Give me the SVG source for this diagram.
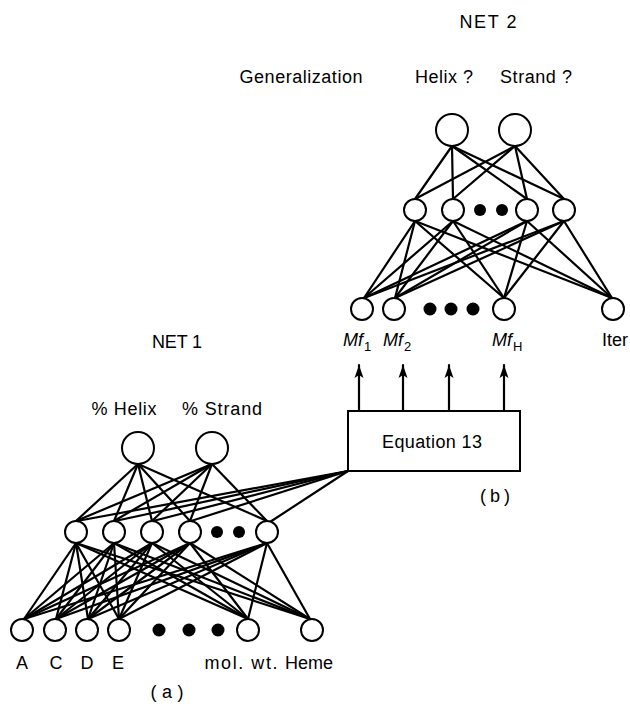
<svg xmlns="http://www.w3.org/2000/svg" width="630" height="706" viewBox="0 0 630 706">
  <style>
    text { font-family: "Liberation Sans", Arial, sans-serif; font-size: 18px; fill: #000; }
    .mid { text-anchor: middle; }
    .it { font-style: italic; font-size: 18px; }
    .sub { font-size: 13px; font-style: normal; }
    .edge { stroke: #000; stroke-width: 2.2; fill: none; stroke-linecap: round; }
    .node { fill: #fff; stroke: #000; stroke-width: 2; }
    .dot { fill: #000; }
    .box { fill: #fff; stroke: #000; stroke-width: 2; }
  </style>
  <defs>
    <marker id="arrow" markerUnits="userSpaceOnUse" markerWidth="14" markerHeight="10" viewBox="0 -5 14 10" refX="13" refY="0" orient="auto">
      <path d="M0,-4.5 L13,0 L0,4.5 L3,0 z" fill="#000"/>
    </marker>
  </defs>

  <rect width="630" height="706" fill="#fff"/>

  <!-- connectors -->
  <g id="connectors" class="edge">
    <!-- NET 2: output layer to hidden layer -->
    <g id="net2-out-hid">
      <line x1="452" y1="146" x2="415" y2="199"/>
      <line x1="452" y1="146" x2="453" y2="199"/>
      <line x1="452" y1="146" x2="527" y2="199"/>
      <line x1="452" y1="146" x2="564" y2="199"/>
      <line x1="515" y1="146" x2="415" y2="199"/>
      <line x1="515" y1="146" x2="453" y2="199"/>
      <line x1="515" y1="146" x2="527" y2="199"/>
      <line x1="515" y1="146" x2="564" y2="199"/>
    </g>
    <!-- NET 2: hidden layer to inputs -->
    <g id="net2-hid-in">
      <line x1="415" y1="221" x2="364" y2="298"/>
      <line x1="453" y1="221" x2="364" y2="298"/>
      <line x1="527" y1="221" x2="364" y2="298"/>
      <line x1="564" y1="221" x2="364" y2="298"/>
      <line x1="415" y1="221" x2="395" y2="298"/>
      <line x1="453" y1="221" x2="395" y2="298"/>
      <line x1="527" y1="221" x2="395" y2="298"/>
      <line x1="564" y1="221" x2="395" y2="298"/>
      <line x1="415" y1="221" x2="504" y2="298"/>
      <line x1="453" y1="221" x2="504" y2="298"/>
      <line x1="527" y1="221" x2="504" y2="298"/>
      <line x1="564" y1="221" x2="504" y2="298"/>
      <line x1="415" y1="221" x2="612" y2="298"/>
      <line x1="453" y1="221" x2="612" y2="298"/>
      <line x1="527" y1="221" x2="612" y2="298"/>
      <line x1="564" y1="221" x2="612" y2="298"/>
    </g>
    <!-- Equation 13 outputs feeding NET 2 inputs -->
    <g id="eq-arrows">
      <line x1="359" y1="411" x2="359" y2="365" marker-end="url(#arrow)"/>
      <line x1="403" y1="411" x2="403" y2="365" marker-end="url(#arrow)"/>
      <line x1="449" y1="411" x2="449" y2="365" marker-end="url(#arrow)"/>
      <line x1="504" y1="411" x2="504" y2="365" marker-end="url(#arrow)"/>
    </g>
    <!-- NET 1 hidden layer to Equation 13 -->
    <g id="net1-hid-eq">
      <line x1="348" y1="471" x2="77" y2="521"/>
      <line x1="348" y1="471" x2="115" y2="521"/>
      <line x1="348" y1="471" x2="153" y2="521"/>
      <line x1="348" y1="471" x2="191" y2="521"/>
      <line x1="348" y1="471" x2="270" y2="522"/>
    </g>
    <!-- NET 1: output layer to hidden layer -->
    <g id="net1-out-hid">
      <line x1="138" y1="464" x2="76" y2="521"/>
      <line x1="138" y1="464" x2="114" y2="521"/>
      <line x1="138" y1="464" x2="152" y2="521"/>
      <line x1="138" y1="464" x2="190" y2="521"/>
      <line x1="138" y1="464" x2="267" y2="521"/>
      <line x1="212" y1="464" x2="76" y2="521"/>
      <line x1="212" y1="464" x2="114" y2="521"/>
      <line x1="212" y1="464" x2="152" y2="521"/>
      <line x1="212" y1="464" x2="190" y2="521"/>
      <line x1="212" y1="464" x2="267" y2="521"/>
    </g>
    <!-- NET 1: hidden layer to inputs -->
    <g id="net1-hid-in">
      <line x1="76" y1="543" x2="24" y2="619"/>
      <line x1="114" y1="543" x2="24" y2="619"/>
      <line x1="152" y1="543" x2="24" y2="619"/>
      <line x1="190" y1="543" x2="24" y2="619"/>
      <line x1="267" y1="543" x2="24" y2="619"/>
      <line x1="76" y1="543" x2="56" y2="619"/>
      <line x1="114" y1="543" x2="56" y2="619"/>
      <line x1="152" y1="543" x2="56" y2="619"/>
      <line x1="190" y1="543" x2="56" y2="619"/>
      <line x1="267" y1="543" x2="56" y2="619"/>
      <line x1="76" y1="543" x2="88" y2="619"/>
      <line x1="114" y1="543" x2="88" y2="619"/>
      <line x1="152" y1="543" x2="88" y2="619"/>
      <line x1="190" y1="543" x2="88" y2="619"/>
      <line x1="267" y1="543" x2="88" y2="619"/>
      <line x1="76" y1="543" x2="119" y2="619"/>
      <line x1="114" y1="543" x2="119" y2="619"/>
      <line x1="152" y1="543" x2="119" y2="619"/>
      <line x1="190" y1="543" x2="119" y2="619"/>
      <line x1="267" y1="543" x2="119" y2="619"/>
      <line x1="76" y1="543" x2="248" y2="619"/>
      <line x1="114" y1="543" x2="248" y2="619"/>
      <line x1="152" y1="543" x2="248" y2="619"/>
      <line x1="190" y1="543" x2="248" y2="619"/>
      <line x1="267" y1="543" x2="248" y2="619"/>
      <line x1="76" y1="543" x2="310" y2="619"/>
      <line x1="114" y1="543" x2="310" y2="619"/>
      <line x1="152" y1="543" x2="310" y2="619"/>
      <line x1="190" y1="543" x2="310" y2="619"/>
      <line x1="267" y1="543" x2="310" y2="619"/>
    </g>
  </g>

  <!-- NET 2 -->
  <text class="mid" x="488" y="28" textLength="57">NET 2</text>
  <text class="mid" x="301" y="83" textLength="123">Generalization</text>

  <g id="net2-out-helix">
    <circle class="node" cx="452" cy="130" r="16"/>
    <text class="mid" x="444" y="83" textLength="58">Helix ?</text>
  </g>
  <g id="net2-out-strand">
    <circle class="node" cx="515" cy="130" r="16"/>
    <text class="mid" x="536" y="83" textLength="72">Strand ?</text>
  </g>

  <g id="net2-hidden">
    <circle class="node" cx="415" cy="210" r="11"/>
    <circle class="node" cx="453" cy="210" r="11"/>
    <circle class="dot" cx="480" cy="210" r="6"/>
    <circle class="dot" cx="502" cy="210" r="6"/>
    <circle class="node" cx="527" cy="210" r="11"/>
    <circle class="node" cx="564" cy="210" r="11"/>
  </g>

  <g id="net2-in-mf1">
    <circle class="node" cx="362" cy="309" r="11"/>
    <text x="343" y="346"><tspan class="it">Mf</tspan><tspan class="sub" dx="1" dy="5">1</tspan></text>
  </g>
  <g id="net2-in-mf2">
    <circle class="node" cx="394" cy="309" r="11"/>
    <text x="383" y="346"><tspan class="it">Mf</tspan><tspan class="sub" dx="1" dy="5">2</tspan></text>
  </g>
  <g id="net2-in-dots">
    <circle class="dot" cx="430" cy="309" r="6.5"/>
    <circle class="dot" cx="451" cy="309" r="6.5"/>
    <circle class="dot" cx="473" cy="309" r="6.5"/>
  </g>
  <g id="net2-in-mfh">
    <circle class="node" cx="504" cy="309" r="11"/>
    <text x="492" y="346"><tspan class="it">Mf</tspan><tspan class="sub" dx="1" dy="5">H</tspan></text>
  </g>
  <g id="net2-in-iter">
    <circle class="node" cx="613" cy="309" r="11"/>
    <text class="mid" x="615" y="346">Iter</text>
  </g>

  <!-- Equation 13 block -->
  <g id="equation13">
    <rect class="box" x="348" y="411" width="172" height="60"/>
    <text class="mid" x="432" y="448" textLength="100">Equation 13</text>
    <text class="mid" x="495" y="502" textLength="30">(b)</text>
  </g>

  <!-- NET 1 -->
  <text class="mid" x="177" y="348" textLength="50">NET 1</text>

  <g id="net1-out-helix">
    <circle class="node" cx="138" cy="448" r="16"/>
    <text class="mid" x="124" y="415" textLength="65">% Helix</text>
  </g>
  <g id="net1-out-strand">
    <circle class="node" cx="212" cy="448" r="16"/>
    <text class="mid" x="222" y="415" textLength="80">% Strand</text>
  </g>

  <g id="net1-hidden">
    <circle class="node" cx="76" cy="532" r="11"/>
    <circle class="node" cx="114" cy="532" r="11"/>
    <circle class="node" cx="152" cy="532" r="11"/>
    <circle class="node" cx="190" cy="532" r="11"/>
    <circle class="dot" cx="217" cy="532" r="6"/>
    <circle class="dot" cx="239" cy="532" r="6"/>
    <circle class="node" cx="267" cy="532" r="11"/>
  </g>

  <g id="net1-in-a">
    <circle class="node" cx="22" cy="630" r="11"/>
    <text class="mid" x="22" y="669">A</text>
  </g>
  <g id="net1-in-c">
    <circle class="node" cx="55" cy="630" r="11"/>
    <text class="mid" x="56" y="669">C</text>
  </g>
  <g id="net1-in-d">
    <circle class="node" cx="87" cy="630" r="11"/>
    <text class="mid" x="87" y="669">D</text>
  </g>
  <g id="net1-in-e">
    <circle class="node" cx="119" cy="630" r="11"/>
    <text class="mid" x="118" y="669">E</text>
  </g>
  <g id="net1-in-dots">
    <circle class="dot" cx="159" cy="630" r="6.5"/>
    <circle class="dot" cx="189" cy="630" r="6.5"/>
    <circle class="dot" cx="218" cy="630" r="6.5"/>
  </g>
  <g id="net1-in-molwt">
    <circle class="node" cx="248" cy="630" r="11"/>
    <text class="mid" x="241" y="669" textLength="73">mol. wt.</text>
  </g>
  <g id="net1-in-heme">
    <circle class="node" cx="312" cy="630" r="11"/>
    <text class="mid" x="309" y="669" textLength="48">Heme</text>
  </g>

  <text class="mid" x="167" y="698" textLength="33">(a)</text>
</svg>
